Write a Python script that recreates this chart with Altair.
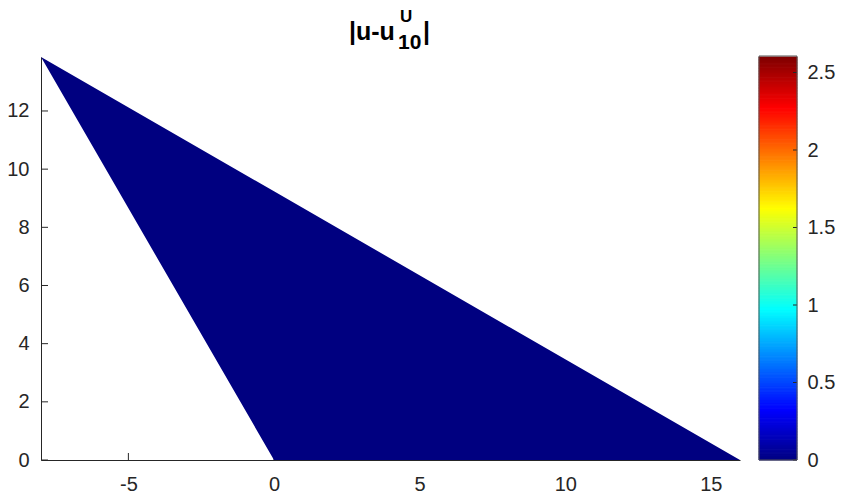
import altair as alt
import pandas as pd
import numpy as np

# ---- data ----
tri_x = [-8.0, 0.0, 16.0]
tri_top = [13.856, 9.237, 0.0]
tri_bot = [13.856, 0.0, 0.0]
tri_err = [0.0, 0.0, 0.0]

x_ticks = [-5, 0, 5, 10, 15]
y_ticks = [0, 2, 4, 6, 8, 10, 12]
cb_ticks = [0, 0.5, 1, 1.5, 2, 2.5]
cb_max = 2.6
jet_stops = [0, 0.125, 0.375, 0.625, 0.875, 1.0]
jet_colors = ["#000080", "#0000ff", "#00ffff", "#ffff00", "#ff0000", "#800000"]

W, H = 699, 403
FONT = "Liberation Sans"
TXT = "#262626"
FS = 20
LBL = "'' + datum.value"

color_scale = alt.Scale(domain=[s * cb_max for s in jet_stops], range=jet_colors, interpolate="rgb")
xs = alt.Scale(domain=[-8, 16], nice=False, zero=False)
ys = alt.Scale(domain=[0, 13.856], nice=False, zero=False)
cbs = alt.Scale(domain=[0, cb_max], nice=False, zero=False)

x_axis = alt.Axis(values=x_ticks, ticks=False, grid=False, domainColor=TXT, domainWidth=1,
                  labelFont=FONT, labelFontSize=FS, labelColor=TXT, labelPadding=30,
                  labelBaseline="alphabetic",
                  labelOverlap=False, labelFlush=False, labelExpr=LBL, title=None)
y_axis = alt.Axis(values=y_ticks, ticks=False, grid=False, domainColor=TXT, domainWidth=1,
                  labelFont=FONT, labelFontSize=FS, labelColor=TXT, labelPadding=12,
                  labelOverlap=False, labelExpr=LBL, title=None)
cb_axis = alt.Axis(orient="right", offset=57, values=cb_ticks, ticks=False, domain=False, grid=False,
                   labelFont=FONT, labelFontSize=FS, labelColor=TXT, labelPadding=10,
                   labelOverlap=False, labelExpr=LBL, title=None)

tri_df = pd.DataFrame({"x": tri_x, "top": tri_top, "bot": tri_bot, "err": tri_err})
xt_df = pd.DataFrame({"v": x_ticks})
yt_df = pd.DataFrame({"v": y_ticks})

xticks = alt.Chart(xt_df).mark_rule(color=TXT, strokeWidth=1).encode(
    x=alt.X("v:Q", scale=xs, axis=x_axis), y=alt.value(H), y2=alt.value(H - 7))
yticks = alt.Chart(yt_df).mark_rule(color=TXT, strokeWidth=1).encode(
    y=alt.Y("v:Q", scale=ys, axis=y_axis), x=alt.value(0), x2=alt.value(7))

tri = alt.Chart(tri_df).mark_area(interpolate="linear").encode(
    x=alt.X("x:Q", scale=xs, axis=x_axis),
    y=alt.Y("top:Q", scale=ys, axis=y_axis),
    y2="bot:Q",
    color=alt.Color("err:Q", scale=color_scale, legend=None),
)

def txt(s, x, y, size, align="left"):
    return alt.Chart(pd.DataFrame({"a": [0]})).mark_text(
        text=s, font=FONT, fontSize=size, fontWeight="bold", color="#000000",
        align=align, baseline="alphabetic").encode(x=alt.value(x), y=alt.value(y))

title = alt.layer(
    txt("|u-u", 308, -17, 25),
    txt("U", 359, -35, 17),
    txt("10", 357, -8, 21),
    txt("|", 382, -17, 25),
)

main = alt.layer(xticks, yticks, tri, title)

# colorbar
edges = np.linspace(0, cb_max, 261)
cb_df = pd.DataFrame({"v0": edges[:-1], "v1": edges[1:], "err": (edges[:-1] + edges[1:]) / 2})
cbt_df = pd.DataFrame({"v": cb_ticks})

cb_rect = alt.Chart(cb_df).mark_rect(strokeWidth=1).encode(
    x=alt.value(718), x2=alt.value(756),
    y=alt.Y("v0:Q", scale=cbs, axis=cb_axis), y2="v1:Q",
    color=alt.Color("err:Q", scale=color_scale, legend=None),
    stroke=alt.Stroke("err:Q", scale=color_scale, legend=None),
)
cb_ticks_m = alt.Chart(cbt_df).mark_rule(color=TXT, strokeWidth=1).encode(
    y=alt.Y("v:Q", scale=cbs, axis=cb_axis), x=alt.value(752), x2=alt.value(756))
cb_border = alt.Chart(pd.DataFrame({"a": [0]})).mark_rect(
    filled=False, stroke="#555555", strokeWidth=1).encode(
    x=alt.value(718), x2=alt.value(756), y=alt.value(-1), y2=alt.value(H))

cbar = alt.layer(cb_rect, cb_ticks_m, cb_border)

chart = alt.layer(main, cbar).resolve_scale(y="independent").properties(
    width=W, height=H,
    padding={"left": 33, "top": 49, "right": 98, "bottom": 34},
    autosize=alt.AutoSizeParams(type="none"),
).configure_view(stroke=None)

chart.save("out.html", embed_options={"renderer": "svg", "actions": False})
